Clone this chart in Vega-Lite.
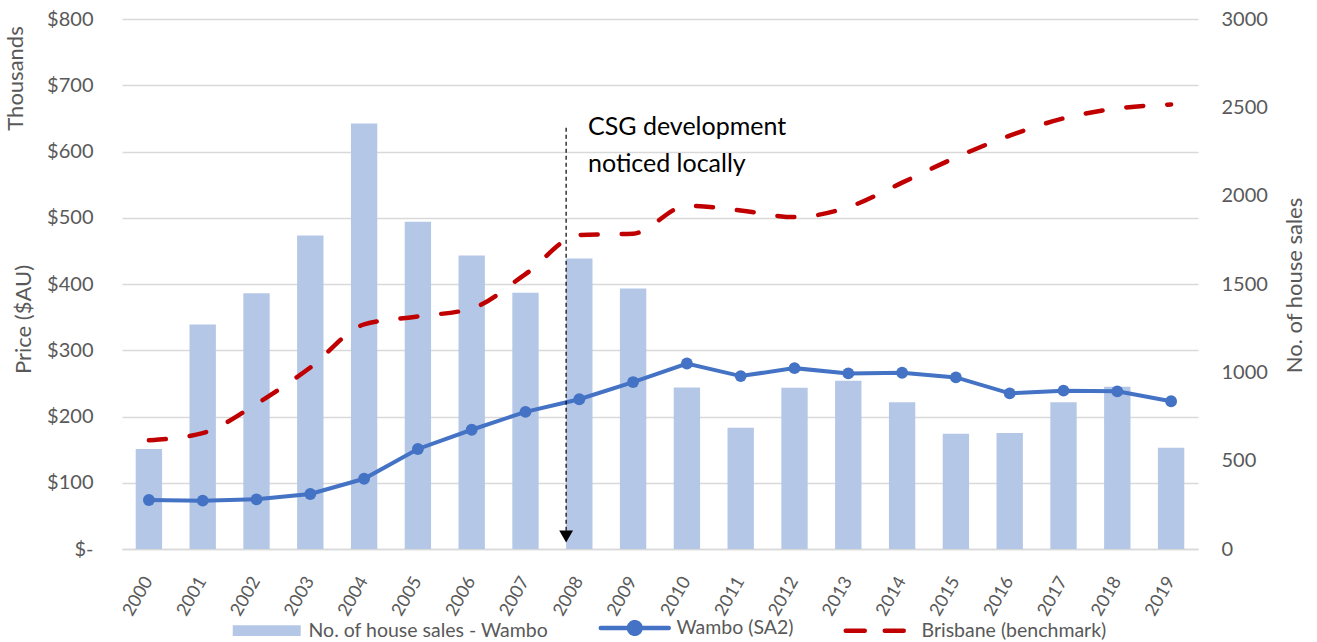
{
  "$schema": "https://vega.github.io/schema/vega-lite/v6.json",
  "width": 1076,
  "height": 530,
  "autosize": {"type": "none"},
  "padding": {"left": 122, "top": 19, "right": 119, "bottom": 93},
  "config": {
    "font": "Lato",
    "view": {"stroke": null},
    "axis": {"labelColor": "#595959", "titleColor": "#595959", "titleFontWeight": "normal", "labelFont": "Lato", "titleFont": "Lato"}
  },
  "data": {
    "values": [
      {"year": "2000", "sales": 566, "wambo": 74, "brisbane": 164},
      {"year": "2001", "sales": 1271, "wambo": 73, "brisbane": 175},
      {"year": "2002", "sales": 1447, "wambo": 75, "brisbane": 219},
      {"year": "2003", "sales": 1775, "wambo": 83, "brisbane": 274},
      {"year": "2004", "sales": 2408, "wambo": 106, "brisbane": 339},
      {"year": "2005", "sales": 1852, "wambo": 151, "brisbane": 351},
      {"year": "2006", "sales": 1662, "wambo": 180, "brisbane": 363},
      {"year": "2007", "sales": 1451, "wambo": 207, "brisbane": 415},
      {"year": "2008", "sales": 1645, "wambo": 226, "brisbane": 474},
      {"year": "2009", "sales": 1474, "wambo": 252, "brisbane": 476},
      {"year": "2010", "sales": 914, "wambo": 280, "brisbane": 518},
      {"year": "2011", "sales": 686, "wambo": 261, "brisbane": 511},
      {"year": "2012", "sales": 913, "wambo": 273, "brisbane": 501},
      {"year": "2013", "sales": 952, "wambo": 265, "brisbane": 516},
      {"year": "2014", "sales": 831, "wambo": 266, "brisbane": 553},
      {"year": "2015", "sales": 652, "wambo": 259, "brisbane": 591},
      {"year": "2016", "sales": 656, "wambo": 235, "brisbane": 624},
      {"year": "2017", "sales": 831, "wambo": 239, "brisbane": 650},
      {"year": "2018", "sales": 919, "wambo": 238, "brisbane": 665},
      {"year": "2019", "sales": 573, "wambo": 223, "brisbane": 671}
    ]
  },
  "encoding": {
    "x": {
      "field": "year",
      "type": "nominal",
      "scale": {"paddingInner": 0.51, "paddingOuter": 0.255},
      "axis": {
        "title": null,
        "labelAngle": -60,
        "labelAlign": "right",
        "labelBaseline": "middle",
        "labelFontSize": 18,
        "labelPadding": 29,
        "ticks": false,
        "domainColor": "#d9d9d9",
        "domainWidth": 1.3,
        "grid": false
      }
    }
  },
  "layer": [
    {
      "mark": {"type": "bar", "color": "#b4c7e7"},
      "encoding": {
        "y": {
          "field": "sales",
          "type": "quantitative",
          "scale": {"domain": [0, 3000], "nice": false},
          "axis": {
            "orient": "right",
            "values": [0, 500, 1000, 1500, 2000, 2500, 3000],
            "format": "d",
            "grid": false,
            "ticks": false,
            "domain": false,
            "labelFontSize": 20,
            "labelPadding": 23,
            "title": "No. of house sales",
            "titleFontSize": 22,
            "titleAngle": -90,
            "titleX": 108,
            "titleY": 266
          }
        },
        "color": {
          "datum": "No. of house sales - Wambo",
          "scale": {
            "domain": ["No. of house sales - Wambo", "Wambo (SA2)", "Brisbane (benchmark)"],
            "range": ["#b4c7e7", "#4472c4", "#c00000"]
          },
          "legend": {
            "title": null,
            "orient": "none",
            "direction": "horizontal",
            "legendX": 109,
            "legendY": 599,
            "symbolSize": 4624,
            "symbolOffset": 26,
            "labelFontSize": 19.5,
            "labelColor": "#595959",
            "labelFont": "Lato",
            "labelLimit": 400,
            "labelOffset": 32,
            "columnPadding": 42,
            "encode": {
              "symbols": {
                "update": {
                  "shape": {"signal": "datum.value === 'No. of house sales - Wambo' ? 'M-1,-0.16H1V0.16H-1Z' : datum.value === 'Wambo (SA2)' ? 'M-1,0H1M0.17,0A0.17,0.17,0,1,1,-0.17,0A0.17,0.17,0,1,1,0.17,0Z' : 'M-1,0H1'"},
                  "fill": {"signal": "datum.value === 'No. of house sales - Wambo' ? '#b4c7e7' : datum.value === 'Wambo (SA2)' ? '#4472c4' : 'transparent'"},
                  "stroke": {"signal": "datum.value === 'No. of house sales - Wambo' ? '#b4c7e7' : datum.value === 'Wambo (SA2)' ? '#4472c4' : '#c00000'"},
                  "strokeWidth": {"signal": "datum.value === 'No. of house sales - Wambo' ? 0 : 4.5"},
                  "strokeDash": {"signal": "datum.value === 'Brisbane (benchmark)' ? [19, 20] : [1, 0]"},
                  "strokeCap": {"value": "round"},
                  "opacity": {"value": 1}
                }
              }
            }
          }
        }
      }
    },
    {
      "layer": [
        {
          "mark": {"type": "line", "strokeWidth": 4.5, "strokeDash": [17, 24], "strokeCap": "round", "interpolate": "monotone"},
          "encoding": {
            "y": {
              "field": "brisbane",
              "type": "quantitative",
              "scale": {"domain": [0, 800], "nice": false},
              "axis": {
                "orient": "left",
                "values": [0, 100, 200, 300, 400, 500, 600, 700, 800],
                "labelExpr": "datum.value == 0 ? '$-\u00a0\u00a0\u00a0\u00a0\u00a0' : '$' + datum.value",
                "labelFontSize": 20,
                "labelPadding": 29,
                "grid": true,
                "gridColor": "#d9d9d9",
                "gridWidth": 1.3,
                "ticks": false,
                "domain": false,
                "title": "Price ($AU)",
                "titleFontSize": 22,
                "titleX": -87,
                "titleY": 300
              }
            },
            "color": {"datum": "Brisbane (benchmark)"}
          }
        },
        {
          "mark": {"type": "line", "strokeWidth": 4, "point": {"filled": true, "size": 140, "opacity": 1}},
          "encoding": {
            "y": {"field": "wambo", "type": "quantitative", "scale": {"domain": [0, 800], "nice": false}, "title": "Price ($AU)"},
            "color": {"datum": "Wambo (SA2)"}
          }
        }
      ]
    },
    {
      "layer": [
        {
          "data": {"values": [{"year": "2008", "top": 636, "bottom": 16}]},
          "mark": {"type": "rule", "color": "black", "strokeWidth": 1.2, "strokeDash": [4, 3]},
          "encoding": {
            "x": {"field": "year", "type": "nominal", "bandPosition": 0},
            "y": {
              "field": "top",
              "type": "quantitative",
              "scale": {"domain": [0, 800], "nice": false},
              "axis": {
                "orient": "left",
                "labels": false,
                "ticks": false,
                "domain": false,
                "grid": false,
                "title": "Thousands",
                "titleFontSize": 22,
                "titleX": -95,
                "titleY": 59
              }
            },
            "y2": {"field": "bottom"}
          }
        },
        {
          "data": {"values": [{"year": "2008", "tip": 19}]},
          "mark": {"type": "point", "shape": "triangle-down", "filled": true, "color": "black", "opacity": 1, "size": 190},
          "encoding": {
            "x": {"field": "year", "type": "nominal", "bandPosition": 0},
            "y": {"field": "tip", "type": "quantitative", "scale": {"domain": [0, 800], "nice": false}, "title": "Thousands"}
          }
        },
        {
          "data": {"values": [{"year": "2008", "pos": 637, "label": "CSG development\nnoticed locally"}]},
          "mark": {"type": "text", "align": "left", "baseline": "middle", "fontSize": 25, "color": "black", "lineBreak": "\n", "lineHeight": 37, "font": "Lato"},
          "encoding": {
            "x": {"field": "year", "type": "nominal", "bandPosition": 0.83},
            "y": {"field": "pos", "type": "quantitative", "scale": {"domain": [0, 800], "nice": false}, "title": "Thousands"},
            "text": {"field": "label"}
          }
        }
      ]
    }
  ],
  "resolve": {"scale": {"y": "independent"}}
}
